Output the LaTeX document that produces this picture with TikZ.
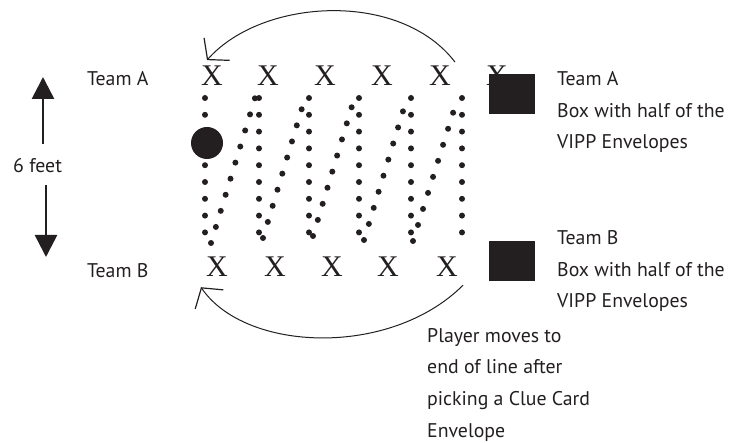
\documentclass[tikz,border=0pt]{standalone}
\usepackage{fontspec}
\setmainfont{PT Sans}
\newfontfamily\crossfont{Liberation Serif}
\usetikzlibrary{arrows.meta,positioning}
\definecolor{ink}{HTML}{231F20}

\begin{document}
\begin{tikzpicture}[x=1pt,y=-1pt,
    lbl/.style={text=ink,font=\fontsize{19.8}{31.6}\selectfont,align=left,anchor=base west,inner sep=0pt},
    cross/.style={text=ink,font=\crossfont\fontsize{30}{30}\selectfont,anchor=base,inner sep=0pt},
    trail/.style={ink,line width=6pt,line cap=round,dash pattern=on 0pt off 16.8pt},
    crate/.style={fill=ink,minimum width=46pt,minimum height=40pt,inner sep=0pt},
    swing/.style={ink,line width=1pt,-{Straight Barb[length=14pt,width=34pt,line width=1.2pt]}},
    gauge/.style={ink,line width=2.6pt,-{Triangle[length=22pt,width=22pt]}}]
  % Frame
  \useasboundingbox (0,0) rectangle (733,443);
  % Define the two lines of players
  \foreach \x [count=\i] in {212,268,325,382,440,497}
    \node[cross] (a\i) at (\x,86) {X};
  \foreach \x [count=\i] in {217,275,332,388,447}
    \node[cross] (b\i) at (\x,277) {X};
  % Path of the ball
  \foreach \x in {205,259,309,359,411,462}
    \draw[trail] (\x,98) -- (\x,248);
  \foreach \x/\y/\u/\v in {211/243/255/98, 263/238/305/98, 313/236/355/96, 364/240/407/98, 413/241/458/97}
    \draw[trail] (\x,\y) -- (\u,\v);
  \node[circle,fill=ink,minimum size=32pt,inner sep=0pt] (ball) at (207,143) {};
  % Boxes with the envelopes
  \node[crate] (boxa) at (512,94) {};
  \node[crate] (boxb) at (512,261.5) {};
  % Labels (multi-line ones sit on their last line)
  \node[lbl] (teama) at (87,86) {Team A};
  \node[lbl] (teamb) at (87,278) {Team B};
  \node[lbl] (feet) at (13,173) {6 feet};
  \node[lbl] (infoa) at (557,149) {Team A\\Box with half of the\\VIPP Envelopes};
  \node[lbl] (infob) at (557,308) {Team B\\Box with half of the\\VIPP Envelopes};
  \node[lbl] (rule) at (427,437) {Player moves to\\end of line after\\picking a Clue Card\\Envelope};
  % Distance between the lines
  \coordinate (top) at (43,77);
  \coordinate (bot) at (46,257);
  \draw[gauge] ([yshift=15pt]feet.north -| top) -- (top);
  \draw[gauge] ([yshift=-12pt]feet.south -| bot) -- (bot);
  % Moves to the end of the line
  \draw[swing] ([xshift=4pt,yshift=4pt]a5.north east) .. controls (400,-10) and (262,-2) .. ([xshift=-5pt,yshift=6pt]a1.north);
  \draw[swing] ([xshift=5pt,yshift=-8pt]b5.south east) .. controls (390,358) and (245,352) .. ([xshift=-5pt,yshift=-10pt]b1.south west);
\end{tikzpicture}
\end{document}
